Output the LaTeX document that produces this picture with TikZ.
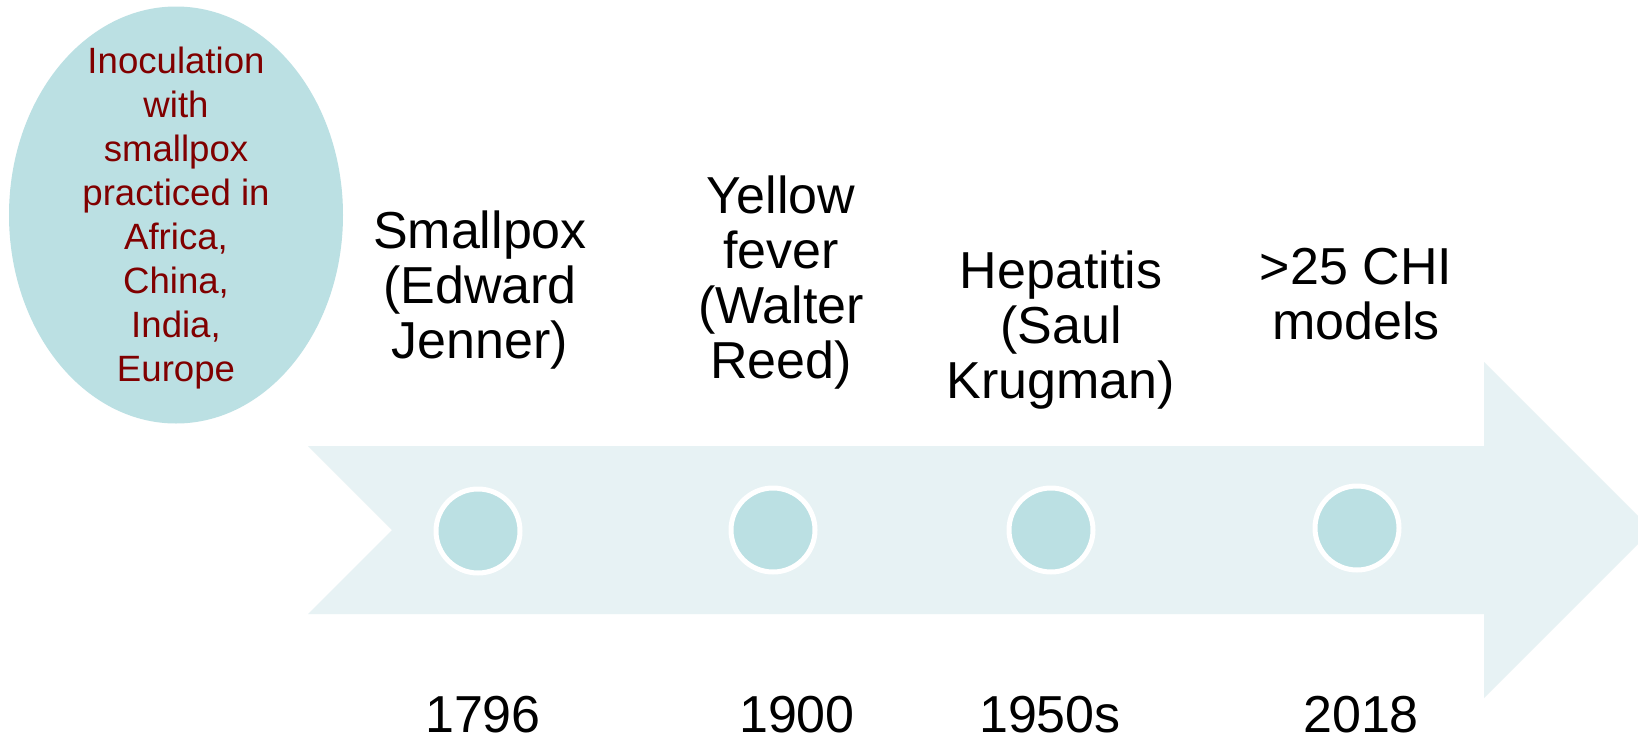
\documentclass[tikz,border=0pt]{standalone}
\usepackage{fontspec}
\setmainfont{Liberation Sans}
\usetikzlibrary{shapes.geometric}
\definecolor{tealfill}{RGB}{187,224,227}
\definecolor{arrowfill}{RGB}{231,242,244}
\definecolor{darkred}{RGB}{128,0,0}
\tikzset{
  dotnode/.style={circle, fill=tealfill, draw=white, line width=5pt, minimum size=84pt, inner sep=0pt},
  eventtext/.style={align=center, inner sep=0pt, anchor=base, font=\fontsize{52}{55}\selectfont, text=black},
  yeartext/.style={inner sep=0pt, anchor=base, font=\fontsize{52}{55}\selectfont, text=black},
  redtext/.style={align=center, inner sep=0pt, anchor=base, font=\fontsize{36.6}{44}\selectfont, text=darkred},
}
\begin{document}
\begin{tikzpicture}[x=1pt,y=-1pt]
\clip (0,0) rectangle (1638,739);
\fill[white] (0,0) rectangle (1638,739);
% timeline arrow
\fill[arrowfill] (308,446) -- (1484,446) -- (1484,362) -- (1652,530) -- (1484,698) -- (1484,614) -- (308,614) -- (392,530) -- cycle;
% ellipse
\node[ellipse, fill=tealfill, minimum width=334pt, minimum height=417pt, inner sep=0pt] (inoc) at (176,215) {};
% anchor=base is the baseline of the last line
\node[redtext] (inoctext) at (176,381) {Inoculation\\with\\smallpox\\practiced in\\Africa,\\China,\\India,\\Europe};
% dots
\node[dotnode] (d1) at (478,531) {};
\node[dotnode] (d2) at (773,530) {};
\node[dotnode] (d3) at (1051,530) {};
\node[dotnode] (d4) at (1357,528) {};
% events
\node[eventtext] (e1) at (480,358) {Smallpox\\(Edward\\Jenner)};
\node[eventtext] (e2) at (781,378) {Yellow\\fever\\(Walter\\Reed)};
\node[eventtext] (e3) at (1061,398) {Hepatitis\\(Saul\\Krugman)};
\node[eventtext] (e4) at (1356,339) {>25 CHI\\models};
% years
\node[yeartext] (y1) at (483,732) {1796};
\node[yeartext] (y2) at (797,732) {1900};
\node[yeartext] (y3) at (1050,732) {1950s};
\node[yeartext] (y4) at (1361,732) {2018};
\end{tikzpicture}
\end{document}
